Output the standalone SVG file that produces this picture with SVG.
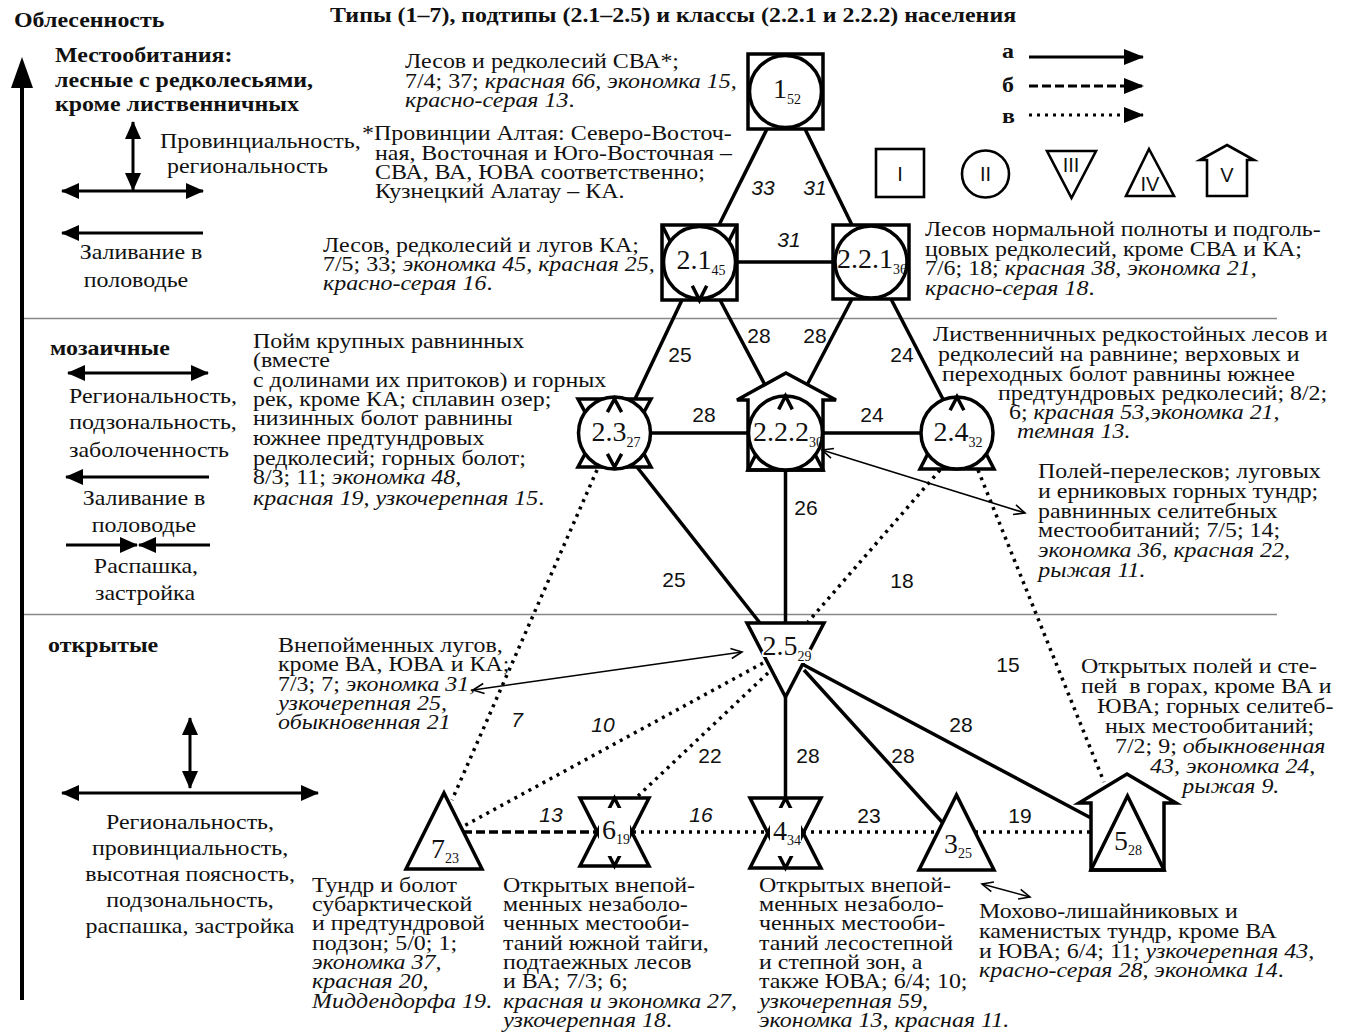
<svg xmlns="http://www.w3.org/2000/svg" width="1351" height="1036" viewBox="0 0 1351 1036">
<defs>
<style>
.t{font-family:"Liberation Serif","Times New Roman",serif;font-size:21px;fill:#111;transform-box:fill-box;transform-origin:0 0;transform:scaleX(1.14)}
.t.m{transform-origin:50% 0;text-anchor:middle}
.i{font-style:italic}
.b{font-weight:bold}
.el{font-family:"Liberation Sans",Arial,sans-serif;font-size:21px;fill:#111;text-anchor:middle}
.nl{font-family:"Liberation Serif","Times New Roman",serif;font-size:28px;fill:#111;text-anchor:middle}
.nl tspan{font-size:14px}
.halo{paint-order:stroke;stroke:#fff;stroke-width:4px;stroke-linejoin:round}
.sh{fill:none;stroke:#000;stroke-width:3.5;stroke-linejoin:miter}
.cw{fill:#fff;stroke:#000;stroke-width:3.5}
.e{fill:none;stroke:#000;stroke-width:3.5}
.dot{stroke-dasharray:3 5}
.dash{stroke-dasharray:9 4}
.thin{fill:none;stroke:#000;stroke-width:1.6}
.ax{fill:none;stroke:#000;stroke-width:3}
.lg{fill:none;stroke:#000;stroke-width:2.6}
.sep{stroke:#888;stroke-width:1.5}
.ls{font-family:"Liberation Sans",Arial,sans-serif;font-size:20px;fill:#111;text-anchor:middle}
</style>
<marker id="ah" markerUnits="userSpaceOnUse" viewBox="0 0 18 16" refX="17" refY="8" markerWidth="18" markerHeight="16" orient="auto-start-reverse"><path d="M0,0 L18,8 L0,16 z" fill="#000"/></marker>
<marker id="oh" markerUnits="userSpaceOnUse" viewBox="-1 -1 14 14" refX="11" refY="6" markerWidth="14" markerHeight="14" orient="auto-start-reverse"><path d="M0,1 L11,6 L0,11" fill="none" stroke="#000" stroke-width="1.6"/></marker>
<marker id="lh" markerUnits="userSpaceOnUse" viewBox="0 0 20 16" refX="19" refY="8" markerWidth="20" markerHeight="16" orient="auto"><path d="M0,0 L20,8 L0,16 z" fill="#000"/></marker>
</defs>
<rect width="1351" height="1036" fill="#fff"/>

<!-- separators -->
<line class="sep" x1="24" y1="318.5" x2="1277" y2="318.5"/>
<line class="sep" x1="24" y1="614.5" x2="1277" y2="614.5"/>

<!-- left axis and legend -->
<g id="axis">
<line x1="22" y1="1000" x2="22" y2="80" stroke="#000" stroke-width="4"/>
<path d="M22,57 L33,88 L11,88 z" fill="#000"/>
<text class="t b" x="14" y="27" font-size="20">Облесенность</text>
<text class="t b" x="55" y="62" font-size="20">Местообитания:</text>
<text class="t b" x="55" y="87" font-size="20">лесные с редколесьями,</text>
<text class="t b" x="55" y="111" font-size="20">кроме лиственничных</text>
<line class="ax" x1="133" y1="122" x2="133" y2="190" marker-start="url(#ah)" marker-end="url(#ah)"/>
<line class="ax" x1="62" y1="191" x2="203" y2="191" marker-start="url(#ah)" marker-end="url(#ah)"/>
<text class="t" x="160" y="148">Провинциальность,</text>
<text class="t" x="167" y="173">региональность</text>
<line class="ax" x1="203" y1="233" x2="62" y2="233" marker-end="url(#ah)"/>
<text class="t m" x="141" y="259">Заливание в</text>
<text class="t m" x="136" y="287">половодье</text>

<text class="t b" x="50" y="355" font-size="20">мозаичные</text>
<line class="ax" x1="68" y1="373" x2="208" y2="373" marker-start="url(#ah)" marker-end="url(#ah)"/>
<text class="t m" x="153" y="403">Региональность,</text>
<text class="t m" x="153" y="429">подзональность,</text>
<text class="t m" x="149" y="457">заболоченность</text>
<line class="ax" x1="209" y1="477" x2="66" y2="477" marker-end="url(#ah)"/>
<text class="t m" x="144" y="505">Заливание в</text>
<text class="t m" x="144" y="532">половодье</text>
<line class="ax" x1="66" y1="545" x2="137" y2="545" marker-end="url(#ah)"/>
<line class="ax" x1="210" y1="545" x2="139" y2="545" marker-end="url(#ah)"/>
<text class="t m" x="146" y="573">Распашка,</text>
<text class="t m" x="145" y="600">застройка</text>

<text class="t b" x="48" y="652" font-size="20">открытые</text>
<line class="ax" x1="190" y1="718" x2="190" y2="788" marker-start="url(#ah)" marker-end="url(#ah)"/>
<line class="ax" x1="62" y1="793" x2="318" y2="793" marker-start="url(#ah)" marker-end="url(#ah)"/>
<text class="t m" x="190" y="829">Региональность,</text>
<text class="t m" x="190" y="855">провинциальность,</text>
<text class="t m" x="190" y="881">высотная поясность,</text>
<text class="t m" x="190" y="907">подзональность,</text>
<text class="t m" x="190" y="933">распашка, застройка</text>
</g>

<text class="t b" x="330" y="22" font-size="19">Типы (1–7), подтипы (2.1–2.5) и классы (2.2.1 и 2.2.2) населения</text>

<!-- legend -->
<g id="legend">
<text class="t b" x="1002" y="58" font-size="20">а</text>
<text class="t b" x="1002" y="92" font-size="20">б</text>
<text class="t b" x="1002" y="123" font-size="20">в</text>
<line x1="1029" y1="57" x2="1143" y2="57" stroke="#000" stroke-width="3" marker-end="url(#lh)"/>
<line x1="1029" y1="86" x2="1143" y2="86" stroke="#000" stroke-width="3" stroke-dasharray="9 4" marker-end="url(#lh)"/>
<line x1="1029" y1="115" x2="1143" y2="115" stroke="#000" stroke-width="3" stroke-dasharray="3 5" marker-end="url(#lh)"/>
<rect class="lg" x="876" y="149" width="48" height="48"/>
<text class="ls" x="900" y="181">I</text>
<circle class="lg" cx="985.5" cy="174" r="23.5"/>
<text class="ls" x="985.5" y="181">II</text>
<path class="lg" d="M1047,151 L1096,151 L1071.5,198 z"/>
<text class="ls" x="1071" y="172" font-size="17">III</text>
<path class="lg" d="M1149,149 L1174,196 L1126,196 z"/>
<text class="ls" x="1150" y="191" font-size="18">IV</text>
<path class="lg" d="M1227,145 L1254,160 L1247,160 L1247,196 L1207,196 L1207,160 L1200,160 z"/>
<text class="ls" x="1227" y="182">V</text>
</g>

<!-- connectors -->
<g id="connectors">
<line class="e" x1="767" y1="129" x2="719" y2="225"/>
<line class="e" x1="805" y1="129" x2="852" y2="225"/>
<line class="e" x1="737" y1="262" x2="833" y2="262"/>
<line class="e" x1="682" y1="300" x2="635" y2="399"/>
<line class="e" x1="720" y1="300" x2="765" y2="385"/>
<line class="e" x1="852" y1="299" x2="807" y2="385"/>
<line class="e" x1="891" y1="299" x2="946" y2="405"/>
<line class="e" x1="651" y1="433" x2="748" y2="433"/>
<line class="e" x1="823" y1="433" x2="921" y2="433"/>
<line class="e" x1="785.5" y1="470" x2="785.5" y2="623"/>
<line class="e" x1="637" y1="467" x2="760" y2="623"/>
<line class="e" x1="785.5" y1="697" x2="785.5" y2="800"/>
<line class="e" x1="804" y1="670" x2="942" y2="822"/>
<line class="e" x1="802" y1="664" x2="1091" y2="818"/>
<line class="e dot" x1="597" y1="470" x2="452" y2="800"/>
<line class="e dot" x1="940" y1="470" x2="808" y2="622"/>
<line class="e dot" x1="978" y1="470" x2="1104" y2="782"/>
<line class="e dot" x1="763" y1="663" x2="462" y2="827"/>
<line class="e dot" x1="768" y1="673" x2="638" y2="796"/>
<line class="e dash" x1="463" y1="832" x2="597" y2="832"/>
<line class="e dot" x1="633" y1="832" x2="768" y2="832"/>
<line class="e dot" x1="803" y1="832" x2="938" y2="832"/>
<line class="e dot" x1="975" y1="832" x2="1091" y2="832"/>
<line class="thin" x1="473" y1="690" x2="742" y2="652" marker-start="url(#oh)" marker-end="url(#oh)"/>
<line class="thin" x1="822" y1="450" x2="1025" y2="513" marker-start="url(#oh)" marker-end="url(#oh)"/>
<line class="thin" x1="982" y1="884" x2="1030" y2="897" marker-start="url(#oh)" marker-end="url(#oh)"/>
<text class="el i" x="763" y="195">33</text>
<text class="el i" x="815" y="195">31</text>
<text class="el i" x="789" y="247">31</text>
<text class="el" x="680" y="362">25</text>
<text class="el" x="759" y="343">28</text>
<text class="el" x="815" y="343">28</text>
<text class="el" x="902" y="362">24</text>
<text class="el" x="704" y="422">28</text>
<text class="el" x="872" y="422">24</text>
<text class="el" x="806" y="515">26</text>
<text class="el" x="674" y="587">25</text>
<text class="el" x="902" y="588">18</text>
<text class="el i" x="517" y="727">7</text>
<text class="el i" x="603" y="732">10</text>
<text class="el" x="710" y="763">22</text>
<text class="el i" x="551" y="822">13</text>
<text class="el i" x="701" y="822">16</text>
<text class="el" x="1008" y="672">15</text>
<text class="el" x="961" y="732">28</text>
<text class="el" x="808" y="763">28</text>
<text class="el" x="903" y="763">28</text>
<text class="el" x="869" y="823">23</text>
<text class="el" x="1020" y="823">19</text>
</g>

<!-- nodes -->
<g id="n1">
<rect class="sh" x="748" y="54" width="75" height="75"/>
<circle class="cw" cx="785.5" cy="91.5" r="36"/>
<text class="nl" x="787" y="98" font-size="30">1<tspan dy="6">52</tspan></text>
</g>
<g id="n2-1">
<rect class="sh" x="662" y="225" width="75" height="75"/>
<path class="sh" d="M662,225 L699.5,300 L737,225"/>
<circle class="cw" cx="699.5" cy="262.5" r="36"/>
<polyline class="sh" points="692.3,285.7 699.5,300 706.7,285.7"/>
<text class="nl" x="701" y="269">2.1<tspan dy="6">45</tspan></text>
</g>
<g id="n2-2-1">
<rect class="sh" x="833" y="225" width="76" height="74"/>
<circle class="cw" cx="871" cy="262" r="36"/>
<text class="nl" x="872" y="268">2.2.1<tspan dy="6">36</tspan></text>
</g>
<g id="n2-3">
<path class="sh" d="M578,399 L651,399 L614.5,467 z"/>
<path class="sh" d="M578,467 L651,467 L614.5,399 z"/>
<circle class="cw" cx="614.5" cy="433" r="36"/>
<polyline class="sh" points="607.4,412.2 614.5,399 621.6,412.2"/>
<polyline class="sh" points="607.4,453.8 614.5,467 621.6,453.8"/>
<text class="nl" x="616" y="441">2.3<tspan dy="6">27</tspan></text>
</g>
<g id="n2-2-2">
<path class="sh" d="M786,373 L836,400 L823,400 L823,470 L748,470 L748,400 L737,400 z"/>
<path class="sh" d="M748,470 L823,470 L785.5,396 z"/>
<circle class="cw" cx="785.5" cy="433" r="37"/>
<polyline class="sh" points="778.7,409.4 785.5,396 792.3,409.4"/>
<text class="nl" x="788" y="441">2.2.2<tspan dy="6">30</tspan></text>
</g>
<g id="n2-4">
<path class="sh" d="M920,469 L994,469 L957,397 z"/>
<circle class="cw" cx="957" cy="433" r="36"/>
<polyline class="sh" points="950.1,410.3 957,397 963.9,410.3"/>
<text class="nl" x="958" y="441">2.4<tspan dy="6">32</tspan></text>
</g>
<g id="n2-5">
<path class="sh" d="M747,623 L824,623 L785.5,697 z"/>
<text class="nl halo" x="787" y="655">2.5<tspan dy="6">29</tspan></text>
</g>
<g id="n7">
<path class="sh" d="M406,869 L482,869 L444,793 z"/>
<text class="nl halo" x="445" y="858">7<tspan dy="5">23</tspan></text>
</g>
<g id="n6">
<path class="sh" d="M580,798 L649,798 L614.5,866 z"/>
<path class="sh" d="M580,866 L649,866 L614.5,798 z"/>
<rect x="599" y="808" width="31" height="48" fill="#fff"/>
<text class="nl" x="616" y="839">6<tspan dy="5">19</tspan></text>
</g>
<g id="n4">
<path class="sh" d="M750,798 L821,798 L785.5,868 z"/>
<path class="sh" d="M750,868 L821,868 L785.5,798 z"/>
<rect x="770" y="808" width="31" height="48" fill="#fff"/>
<text class="nl" x="787" y="840">4<tspan dy="5">34</tspan></text>
</g>
<g id="n3">
<path class="sh" d="M919,870 L994,870 L956.5,795 z"/>
<text class="nl halo" x="958" y="853">3<tspan dy="5">25</tspan></text>
</g>
<g id="n5">
<path class="sh" d="M1127,774 L1176,803 L1164,803 L1164,870 L1091,870 L1091,803 L1079,803 z"/>
<path class="sh" d="M1091,870 L1164,870 L1127.5,796 z"/>
<text class="nl halo" x="1128" y="850">5<tspan dy="5">28</tspan></text>
</g>

<!-- descriptions -->
<g id="desc">
<text class="t" x="405" y="68">Лесов и редколесий СВА*;</text>
<text class="t" x="405" y="88">7/4; 37; <tspan class="i">красная 66, экономка 15,</tspan></text>
<text class="t" x="405" y="107"><tspan class="i">красно-серая 13</tspan>.</text>

<text class="t" x="362" y="140">*Провинции Алтая: Северо-Восточ-</text>
<text class="t" x="375" y="160">ная, Восточная и Юго-Восточная –</text>
<text class="t" x="375" y="179">СВА, ВА, ЮВА соответственно;</text>
<text class="t" x="375" y="198">Кузнецкий Алатау – КА.</text>

<text class="t" x="323" y="252">Лесов, редколесий и лугов КА;</text>
<text class="t" x="323" y="271">7/5; 33; <tspan class="i">экономка 45, красная 25,</tspan></text>
<text class="t" x="323" y="290"><tspan class="i">красно-серая 16</tspan>.</text>

<text class="t" x="925" y="236">Лесов нормальной полноты и подголь-</text>
<text class="t" x="925" y="256">цовых редколесий, кроме СВА и КА;</text>
<text class="t" x="925" y="275">7/6; 18; <tspan class="i">красная 38, экономка 21,</tspan></text>
<text class="t" x="925" y="295"><tspan class="i">красно-серая 18</tspan>.</text>

<text class="t" x="253" y="348">Пойм крупных равнинных</text>
<text class="t" x="253" y="367">(вместе</text>
<text class="t" x="253" y="387">с долинами их притоков) и горных</text>
<text class="t" x="253" y="406">рек, кроме КА; сплавин озер;</text>
<text class="t" x="253" y="425">низинных болот равнины</text>
<text class="t" x="253" y="445">южнее предтундровых</text>
<text class="t" x="253" y="465">редколесий; горных болот;</text>
<text class="t" x="253" y="484">8/3; 11; <tspan class="i">экономка 48,</tspan></text>
<text class="t" x="253" y="505"><tspan class="i">красная 19, узкочерепная 15</tspan>.</text>

<text class="t" x="933" y="341">Лиственничных редкостойных лесов и</text>
<text class="t" x="938" y="361">редколесий на равнине; верховых и</text>
<text class="t" x="942" y="381">переходных болот равнины южнее</text>
<text class="t" x="998" y="400">предтундровых редколесий; 8/2;</text>
<text class="t" x="1009" y="419">6; <tspan class="i">красная 53,экономка 21,</tspan></text>
<text class="t i" x="1017" y="438">темная 13.</text>

<text class="t" x="1038" y="478">Полей-перелесков; луговых</text>
<text class="t" x="1038" y="498">и ерниковых горных тундр;</text>
<text class="t" x="1038" y="518">равнинных селитебных</text>
<text class="t" x="1038" y="537">местообитаний; 7/5; 14;</text>
<text class="t i" x="1038" y="557">экономка 36, красная 22,</text>
<text class="t i" x="1038" y="577">рыжая 11.</text>

<text class="t" x="278" y="652">Внепойменных лугов,</text>
<text class="t" x="278" y="671">кроме ВА, ЮВА и КА;</text>
<text class="t" x="278" y="691">7/3; 7; <tspan class="i">экономка 31,</tspan></text>
<text class="t i" x="278" y="710">узкочерепная 25,</text>
<text class="t i" x="278" y="729">обыкновенная 21</text>

<text class="t" x="1081" y="673">Открытых полей и сте-</text>
<text class="t" x="1081" y="693" xml:space="preserve">пей  в горах, кроме ВА и</text>
<text class="t" x="1097" y="713">ЮВА; горных селитеб-</text>
<text class="t" x="1105" y="733">ных местообитаний;</text>
<text class="t" x="1115" y="753">7/2; 9; <tspan class="i">обыкновенная</tspan></text>
<text class="t i" x="1150" y="773">43, экономка 24,</text>
<text class="t i" x="1182" y="793">рыжая 9.</text>

<text class="t" x="312" y="892">Тундр и болот</text>
<text class="t" x="312" y="911">субарктической</text>
<text class="t" x="312" y="930">и предтундровой</text>
<text class="t" x="312" y="950">подзон; 5/0; 1;</text>
<text class="t i" x="312" y="969">экономка 37,</text>
<text class="t i" x="312" y="988">красная 20,</text>
<text class="t" x="312" y="1008"><tspan class="i">Миддендорфа 19</tspan>.</text>

<text class="t" x="503" y="892">Открытых внепой-</text>
<text class="t" x="503" y="911">менных незаболо-</text>
<text class="t" x="503" y="930">ченных местооби-</text>
<text class="t" x="503" y="950">таний южной тайги,</text>
<text class="t" x="503" y="969">подтаежных лесов</text>
<text class="t" x="503" y="988">и ВА; 7/3; 6;</text>
<text class="t i" x="503" y="1008">красная и экономка 27,</text>
<text class="t" x="503" y="1027"><tspan class="i">узкочерепная 18</tspan>.</text>

<text class="t" x="759" y="892">Открытых внепой-</text>
<text class="t" x="759" y="911">менных незаболо-</text>
<text class="t" x="759" y="930">ченных местооби-</text>
<text class="t" x="759" y="950">таний лесостепной</text>
<text class="t" x="759" y="969">и степной зон, а</text>
<text class="t" x="759" y="988">также ЮВА; 6/4; 10;</text>
<text class="t i" x="759" y="1008">узкочерепная 59,</text>
<text class="t i" x="759" y="1027">экономка 13, красная 11.</text>

<text class="t" x="979" y="918">Мохово-лишайниковых и</text>
<text class="t" x="979" y="938">каменистых тундр, кроме ВА</text>
<text class="t" x="979" y="958">и ЮВА; 6/4; 11; <tspan class="i">узкочерепная 43,</tspan></text>
<text class="t" x="979" y="977"><tspan class="i">красно-серая 28, экономка 14</tspan>.</text>
</g>
</svg>
